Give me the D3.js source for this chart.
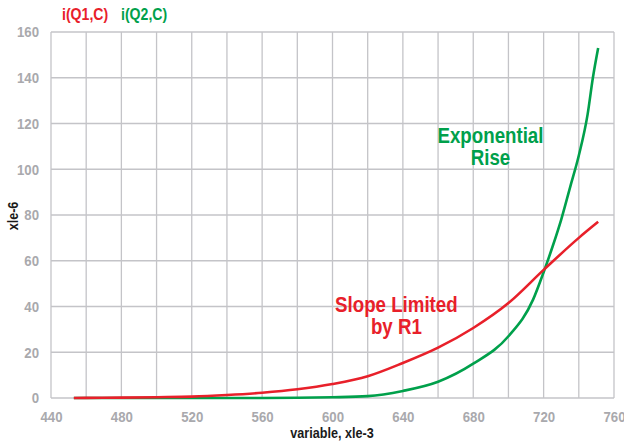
<!DOCTYPE html>
<html><head><meta charset="utf-8">
<script src="https://cdn.jsdelivr.net/npm/d3@7"></script>
<style>
html,body{margin:0;padding:0;background:#fff;}
svg{display:block;}
text{font-family:"Liberation Sans",Arial,sans-serif;font-weight:bold;}
</style></head>
<body>
<svg id="chart" width="624" height="445"></svg>
<script>
const xTicks = [440, 480, 520, 560, 600, 640, 680, 720, 760];
const yTicks = [0, 20, 40, 60, 80, 100, 120, 140, 160];
const xGrid = d3.range(440, 761, 20);
const seriesNames = ["i(Q1,C)", "i(Q2,C)"];
const xQ1 = [453, 460, 480, 500, 520, 540, 560, 580, 600, 620, 640, 660, 680, 700, 720, 740, 751];
const yQ1 = [0, 0.05, 0.15, 0.35, 0.6, 1.3, 2.3, 3.8, 6.1, 9.5, 15.3, 22, 30.6, 41.5, 56, 70, 77];
const xQ2 = [453, 480, 520, 560, 580, 600, 620, 640, 660, 680, 700, 714, 720, 725, 730, 735, 740, 745, 748, 751];
const yQ2 = [0, 0, 0, 0.02, 0.08, 0.3, 0.8, 3.1, 7.1, 15, 27, 43, 55, 66, 78, 92, 106, 124, 140, 153];
const xLabel = "variable, xle-3";
const yLabel = "xle-6";
const annotations = [
  {lines: ["Exponential", "Rise"], x: 689.8, y: 111.3, series: 1},
  {lines: ["Slope Limited", "by R1"], x: 636.3, y: 37.7, series: 0}
];

const colors = ["#e8202a", "#00a04b"];
const svg = d3.select("#chart");
const m = {l: 51, r: 10, t: 32, b: 47};
const W = 624, H = 445;
const x = d3.scaleLinear().domain([440, 760]).range([m.l, W - m.r]);
const y = d3.scaleLinear().domain([0, 160]).range([H - m.b, m.t]);

function narrow(sel, f) {
  sel.each(function() {
    const L = this.getComputedTextLength();
    d3.select(this).attr("textLength", L * f).attr("lengthAdjust", "spacingAndGlyphs");
  });
}

const grid = svg.append("g").attr("stroke", "#c4c4c8").attr("stroke-width", 1.3);
grid.selectAll("line.v").data(xGrid).join("line").attr("class", "v")
  .attr("x1", d => x(d)).attr("x2", d => x(d)).attr("y1", y(0)).attr("y2", y(160));
grid.selectAll("line.h").data(yTicks).join("line").attr("class", "h")
  .attr("x1", x(440)).attr("x2", x(760)).attr("y1", d => y(d)).attr("y2", d => y(d));

const xAxis = svg.append("g").attr("transform", `translate(0,${y(0)})`)
  .call(d3.axisBottom(x).tickValues(xTicks).tickSize(0).tickPadding(13).tickFormat(d3.format("d")));
xAxis.select(".domain").remove();
xAxis.selectAll("text").attr("fill", "#a9a9ad").attr("font-size", 15).style("font-family", null).attr("font-family", null);
narrow(xAxis.selectAll("text"), 0.88);

const yAxis = svg.append("g").attr("transform", `translate(${x(440)},0)`)
  .call(d3.axisLeft(y).tickValues(yTicks).tickSize(0).tickPadding(12).tickFormat(d3.format("d")));
yAxis.select(".domain").remove();
yAxis.selectAll("text").attr("fill", "#a9a9ad").attr("font-size", 15).attr("font-family", null);
narrow(yAxis.selectAll("text"), 0.88);
xAxis.attr("font-family", null); yAxis.attr("font-family", null);

const line = d3.line().x(d => x(d[0])).y(d => y(d[1])).curve(d3.curveMonotoneX);
const series = [d3.zip(xQ1, yQ1), d3.zip(xQ2, yQ2)];
svg.append("g").selectAll("path").data([1, 0]).join("path")
  .attr("d", i => line(series[i])).attr("fill", "none")
  .attr("stroke", i => colors[i]).attr("stroke-width", 2.6);

// legend
const leg = svg.append("g");
leg.append("text").attr("x", 62).attr("y", 20).attr("font-size", 16).attr("fill", colors[0]).text(seriesNames[0]);
leg.append("text").attr("x", 121).attr("y", 20).attr("font-size", 16).attr("fill", colors[1]).text(seriesNames[1]);
narrow(leg.selectAll("text"), 0.88);

// annotations
annotations.forEach(a => {
  a.lines.forEach((s, i) => {
    const t = svg.append("text").attr("text-anchor", "middle").attr("font-size", 22)
      .attr("fill", colors[a.series])
      .attr("x", x(a.x)).attr("y", y(a.y) + i * 22).text(s);
    narrow(t, 0.85);
  });
});

const xl = svg.append("text").attr("x", 332).attr("y", 438).attr("text-anchor", "middle")
  .attr("font-size", 14).attr("fill", "#1a1a1a").text(xLabel);
narrow(xl, 0.9);
const yl = svg.append("text").attr("transform", "translate(18,216) rotate(-90)").attr("text-anchor", "middle")
  .attr("font-size", 14).attr("fill", "#1a1a1a").text(yLabel);
narrow(yl, 0.9);
</script>
</body></html>
